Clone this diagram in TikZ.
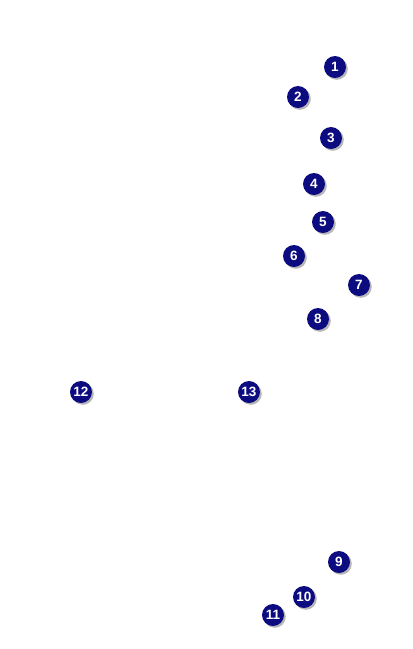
\documentclass[tikz,border=0pt]{standalone}
\usepackage{fontspec}
\setsansfont{Liberation Sans}
\usepackage{xcolor}
\usepackage{tikz}
\usetikzlibrary{shadows}

\definecolor{badgeblue}{HTML}{0C0C80}

\begin{document}
\begin{tikzpicture}[
  x=1pt, y=-1pt,
  badge/.style={
    circle, fill=badgeblue, text=white,
    minimum size=22pt, inner sep=0pt,
    font=\fontsize{13.5}{13.5}\selectfont\sffamily\bfseries,
    drop shadow={shadow xshift=1.8pt, shadow yshift=-1.8pt, fill=black!35, opacity=0.8}
  },
]

% ============================================================
% CANVAS
% ============================================================
\useasboundingbox[fill=white] (0,0) rectangle (413,649);

% ============================================================
% UPPER GROUP (right column)
% ============================================================
\node[badge] (m1) at (335,67) {1};
\node[badge] (m2) at (298,97) {2};
\node[badge] (m3) at (331,138) {3};
\node[badge] (m4) at (314,184) {4};
\node[badge] (m5) at (323,222) {5};
\node[badge] (m6) at (294,256) {6};
\node[badge] (m7) at (359,285) {7};
\node[badge] (m8) at (318,319) {8};

% ============================================================
% MIDDLE ROW
% ============================================================
\node[badge] (m12) at (81,392) {12};
\node[badge] (m13) at (249,392) {13};

% ============================================================
% LOWER GROUP
% ============================================================
\node[badge] (m9) at (339,562) {9};
\node[badge] (m10) at (304,597) {10};
\node[badge] (m11) at (273,615) {11};

\end{tikzpicture}
\end{document}
